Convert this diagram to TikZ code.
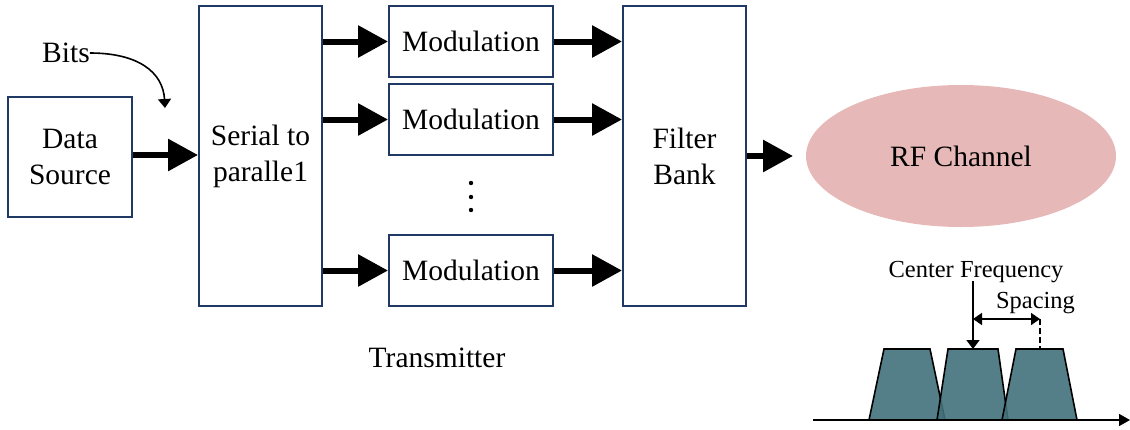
\documentclass[tikz,border=0pt]{standalone}
\usepackage{fontspec}
\setmainfont{Liberation Serif}
\usetikzlibrary{arrows.meta,shapes.geometric}
\definecolor{boxblue}{RGB}{31,56,100}
\definecolor{rfpink}{RGB}{230,185,184}
\definecolor{teal}{RGB}{66,113,123}
\tikzset{
  blk/.style={draw=boxblue,line width=2pt,inner sep=0pt,align=center,
    font=\fontsize{29.5}{36}\selectfont},
  big/.style={line width=6pt,-{Triangle[length=30pt,width=31pt]}},
  thin/.style={line width=1.6pt,-{Triangle[length=9pt,width=13pt]}},
  lbl/.style={inner sep=0pt,font=\fontsize{29.5}{36}\selectfont},
  small/.style={inner sep=0pt,font=\fontsize{24.5}{30}\selectfont},
  band/.style={draw=black,line width=1.6pt,fill=teal,fill opacity=0.9,line join=miter},
}
\begin{document}
\begin{tikzpicture}[x=1pt,y=-1pt]
\useasboundingbox (0,0) rectangle (1130,429);
% blocks
\node[blk,minimum width=124pt,minimum height=120pt] (ds) at (70,156.5) {Data\\Source};
\node[blk,minimum width=123pt,minimum height=300pt] (sp) at (260.5,156) {Serial to\\paralle1};
\node[blk,minimum width=164pt,minimum height=71pt] (m1) at (471,41.5) {Modulation};
\node[blk,minimum width=164pt,minimum height=71pt] (m2) at (471,119.5) {Modulation};
\node[blk,minimum width=164pt,minimum height=71pt] (m3) at (471,270.5) {Modulation};
\node[blk,minimum width=123pt,minimum height=300pt] (fb) at (684.5,156) {Filter\\Bank};
\node[ellipse,fill=rfpink,minimum width=310pt,minimum height=142pt,inner sep=0pt,
      font=\fontsize{29.5}{36}\selectfont] (rf) at (961,156) {RF Channel};
% labels
\node[lbl] (bits) at (66,53) {Bits};
\node[lbl] (tx) at (437,358) {Transmitter};
\fill (471,183) circle (2.2pt) (471,197) circle (2.2pt) (471,210) circle (2.2pt);
% arrows
\draw[big] (ds.east |- 0,155) -- (sp.west |- 0,155);
\draw[big] (sp.east |- m1) -- (m1.west);
\draw[big] (sp.east |- m2) -- (m2.west);
\draw[big] (sp.east |- m3) -- (m3.west);
\draw[big] (m1.east) -- (fb.west |- m1);
\draw[big] (m2.east) -- (fb.west |- m2);
\draw[big] (m3.east) -- (fb.west |- m3);
\coordinate (rfin) at (793,156);
\draw[big] (fb.east |- rfin) -- (rfin);
\coordinate (bitsend) at (165,108);
\draw[thin] (bits.east) .. controls (138,53) and (163,72) .. (bitsend);
% spectrum
\coordinate (ax0) at (813,420);
\coordinate (ax1) at (1130,420);
\draw[band] (869,420) -- (884,349) -- (930,349) -- (945,420) -- cycle;
\draw[band] (937,420) -- (948,349) -- (998,349) -- (1008,420) -- cycle;
\draw[band] (1002,420) -- (1016,349) -- (1063,349) -- (1077,420) -- cycle;
\draw[line width=1.6pt,-{Triangle[length=11pt,width=12pt]}] (ax0) -- (ax1);
\node[small] (cf) at (976,272) {Center Frequency};
\node[small] (spc) at (1035.5,303) {Spacing};
\coordinate (cftop) at (973,281);
\coordinate (cftip) at (973,349);
\coordinate (s1) at (973,319);
\coordinate (s2) at (1040,319);
\coordinate (s3) at (1040,349);
\draw[thin] (cftop) -- (cftip);
\draw[line width=1.6pt,{Triangle[length=9pt,width=12pt]}-{Triangle[length=9pt,width=12pt]}] (s1) -- (s2);
\draw[line width=1.6pt,dash pattern=on 6pt off 3pt] (s2) -- (s3);
\end{tikzpicture}
\end{document}
